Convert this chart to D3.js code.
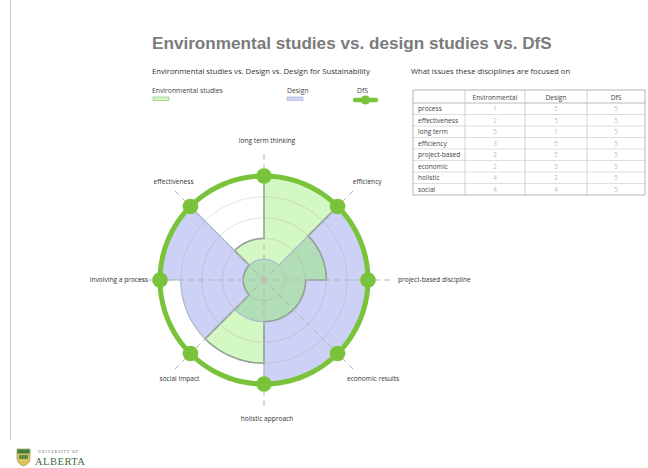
<!DOCTYPE html>
<html>
<head>
<meta charset="utf-8">
<script src="https://cdn.jsdelivr.net/npm/d3@7"></script>
<style>
  html, body { margin: 0; padding: 0; background: #fff; }
  svg { display: block; }
</style>
</head>
<body>
<svg id="chart" width="648" height="468"></svg>
<script>
// Axes of the rose chart, clockwise from the top
const axes = ["long term thinking", "efficiency", "project-based discipline", "economic results",
              "holistic approach", "social impact", "involving a process", "effectiveness"];
// Sector values (0-5), one sector per axis, running clockwise from that axis
const envValues    = [5, 3, 2, 2, 4, 1, 1, 2];
const designValues = [1, 5, 5, 5, 2, 4, 5, 1];
const dfsValues    = [5, 5, 5, 5, 5, 5, 5, 5];
const gridLevels   = [1, 2, 3, 4];

// Summary table
const tableHeaders = ["Environmental", "Design", "DfS"];
const tableRows    = ["process", "effectiveness", "long term", "efficiency", "project-based", "economic", "holistic", "social"];
const tableEnv     = [1, 2, 5, 3, 2, 2, 4, 4];
const tableDesign  = [5, 5, 1, 5, 5, 5, 2, 4];
const tableDfs     = [5, 5, 5, 5, 5, 5, 5, 5];

const legendItems  = ["Environmental studies", "Design", "DfS"];

const SANS = "'Open Sans', 'DejaVu Sans', sans-serif";
const SERIF = "'Liberation Serif', 'DejaVu Serif', serif";

const svg = d3.select("#chart").style("font-family", SANS);
const cx = 264, cy = 280;
const r = d3.scaleLinear().domain([0, 5]).range([0, 104]);
const angle = d3.scaleLinear().domain([0, axes.length]).range([0, 2 * Math.PI]);

// frame line on the left
svg.append("line").attr("x1", 10.5).attr("x2", 10.5).attr("y1", 0).attr("y2", 440)
  .attr("stroke", "#c8c8c8").attr("stroke-width", 1);

// Title
const title = svg.append("text").attr("x", 152).attr("y", 49)
  .style("font-family", "'Liberation Sans', Arial, Helvetica, sans-serif")
  .attr("font-weight", "bold").attr("font-size", 17).attr("fill", "#7b7b7b")
  .text("Environmental studies vs. design studies vs. DfS");
{
  const w = title.node().getComputedTextLength();
  title.attr("font-size", 17 * 400 / w);
}

svg.append("text").attr("x", 152).attr("y", 74).attr("font-size", 7.7).attr("fill", "#333")
  .text("Environmental studies vs. Design vs. Design for Sustainability");
svg.append("text").attr("x", 411).attr("y", 74).attr("font-size", 7.7).attr("fill", "#333")
  .text("What issues these disciplines are focused on");

// Legend
const legend = svg.append("g").attr("font-size", 6.8).attr("fill", "#444");
legend.append("text").attr("x", 152).attr("y", 93).text(legendItems[0]);
legend.append("rect").attr("x", 153).attr("y", 97).attr("width", 16).attr("height", 3.5)
  .attr("fill", "#d3f5c6").attr("stroke", "#9ccf8e").attr("stroke-width", 0.8);
legend.append("text").attr("x", 287).attr("y", 93).text(legendItems[1]);
legend.append("rect").attr("x", 287).attr("y", 97).attr("width", 16).attr("height", 3.5)
  .attr("fill", "#cfd3f5").attr("stroke", "#b3c3df").attr("stroke-width", 0.8);
legend.append("text").attr("x", 357).attr("y", 93).text(legendItems[2]);
legend.append("line").attr("x1", 355).attr("x2", 376).attr("y1", 100).attr("y2", 100)
  .attr("stroke", "#78c43a").attr("stroke-width", 4.5).attr("stroke-linecap", "round");
legend.append("circle").attr("cx", 365.5).attr("cy", 100).attr("r", 4.6).attr("fill", "#78c43a");

// Build the stepped outline of a series: an arc per sector joined by radial steps
function roseShape(values) {
  const pts = [];
  const steps = 24;
  values.forEach((v, i) => {
    for (let k = 0; k <= steps; k++) {
      pts.push([angle(i + k / steps), r(v)]);
    }
  });
  return d3.lineRadial().angle(d => d[0]).radius(d => d[1]).curve(d3.curveLinearClosed)(pts);
}

const g = svg.append("g").attr("transform", `translate(${cx},${cy})`);

// Design (blue)
g.append("path").attr("d", roseShape(designValues)).attr("fill", "#cdd1f6");
// Environmental studies (green)
g.append("path").attr("d", roseShape(envValues)).attr("fill", "#d3f8c4");
// Where both cover the same sector
const overlap = envValues.map((v, i) => Math.min(v, designValues[i]));
g.append("path").attr("d", roseShape(overlap)).attr("fill", "#b2deb7");

// grid rings
g.selectAll("circle.grid").data(gridLevels).join("circle").attr("class", "grid")
  .attr("r", d => r(d)).attr("fill", "none").attr("stroke", "#9a9a9a")
  .attr("stroke-opacity", 0.35).attr("stroke-width", 0.8);

// outlines
g.append("path").attr("d", roseShape(designValues)).attr("fill", "none")
  .attr("stroke", "#a9bdd0").attr("stroke-width", 1.2);
g.append("path").attr("d", roseShape(envValues)).attr("fill", "none")
  .attr("stroke", "#939f93").attr("stroke-width", 1.6);

// dashed axis lines
const axisLen = 126;
g.selectAll("line.axis").data(axes).join("line").attr("class", "axis")
  .attr("x1", 0).attr("y1", 0)
  .attr("x2", (d, i) => axisLen * Math.sin(angle(i)))
  .attr("y2", (d, i) => -axisLen * Math.cos(angle(i)))
  .attr("stroke", "#b5b5b5").attr("stroke-width", 1).attr("stroke-dasharray", "6,4");

// DfS ring and markers
const dfsArc = d3.lineRadial().angle(d => d[0]).radius(d => d[1]).curve(d3.curveCardinalClosed);
g.append("path")
  .attr("d", dfsArc(d3.range(0, 64).map(k => [angle(k / 8), r(dfsValues[Math.floor(k / 8)])])))
  .attr("fill", "none").attr("stroke", "#79c33a").attr("stroke-width", 5);
g.selectAll("circle.dfs").data(dfsValues).join("circle").attr("class", "dfs")
  .attr("cx", (d, i) => r(d) * Math.sin(angle(i)))
  .attr("cy", (d, i) => -r(d) * Math.cos(angle(i)))
  .attr("r", 7.8).attr("fill", "#79c33a");

// axis labels: placed round the ring, the side labels hugging their dashed line
const labelR = 139;
const labelX = a => {
  const s = Math.sin(a), c = Math.cos(a);
  if (Math.abs(s) > 0.99) return s > 0 ? 134 : -116;
  if (Math.abs(s) < 0.01) return 3;
  if (s > 0) return labelR * s * (c > 0 ? 1.05 : 1.11);
  return labelR * s * (c > 0 ? 0.92 : 0.86);
};
g.selectAll("text.lab").data(axes).join("text").attr("class", "lab")
  .attr("font-size", 6.6).attr("fill", "#333")
  .attr("x", (d, i) => labelX(angle(i)))
  .attr("y", (d, i) => -labelR * Math.cos(angle(i)) + 2.4)
  .attr("text-anchor", (d, i) => {
    const s = Math.sin(angle(i));
    if (Math.abs(s) > 0.99) return s > 0 ? "start" : "end";
    return "middle";
  })
  .text(d => d);

// Table
const tx = [413, 465, 525, 587, 645];
const rowH = 11.5, headTop = 90, headH = 13;
const tbl = svg.append("g");
const bodyTop = headTop + headH;
const bottom = bodyTop + rowH * tableRows.length;
tableRows.forEach((_, i) => {
  if (i === 0) return;
  tbl.append("line").attr("x1", tx[0]).attr("x2", tx[4])
    .attr("y1", bodyTop + i * rowH).attr("y2", bodyTop + i * rowH)
    .attr("stroke", "#d6d6d6").attr("stroke-width", 0.8);
});
tbl.append("line").attr("x1", tx[0]).attr("x2", tx[4]).attr("y1", bodyTop).attr("y2", bodyTop)
  .attr("stroke", "#a8a8a8").attr("stroke-width", 0.8);
[1, 2, 3].forEach(j => {
  tbl.append("line").attr("x1", tx[j]).attr("x2", tx[j]).attr("y1", headTop).attr("y2", bottom)
    .attr("stroke", "#c4c4c4").attr("stroke-width", 0.8);
});
tbl.append("rect").attr("x", tx[0]).attr("y", headTop).attr("width", tx[4] - tx[0])
  .attr("height", bottom - headTop).attr("fill", "none").attr("stroke", "#a0a0a0").attr("stroke-width", 0.8);
tableHeaders.forEach((h, j) => {
  tbl.append("text").attr("x", (tx[j + 1] + tx[j + 2]) / 2).attr("y", headTop + 9.5)
    .attr("text-anchor", "middle").attr("font-size", 6.6).attr("fill", "#444").text(h);
});
const cols = [tableEnv, tableDesign, tableDfs];
tableRows.forEach((name, i) => {
  const y = bodyTop + i * rowH + 8.3;
  tbl.append("text").attr("x", 418).attr("y", y).attr("font-size", 6.6).attr("fill", "#444").text(name);
  cols.forEach((col, j) => {
    tbl.append("text").attr("x", (tx[j + 1] + tx[j + 2]) / 2).attr("y", y)
      .attr("text-anchor", "middle").attr("font-size", 6.3).attr("fill", "#bcbcbc").text(col[i]);
  });
});

// University of Alberta mark
const logo = svg.append("g");
logo.append("path").attr("d", "M17,449 L30,449 L30,458 Q30,464 23.5,466 Q17,464 17,458 Z")
  .attr("fill", "#e2c35a").attr("stroke", "#6f8f52").attr("stroke-width", 0.6);
logo.append("rect").attr("x", 17.5).attr("y", 449.5).attr("width", 12).attr("height", 4).attr("fill", "#3f7d3c");
logo.append("rect").attr("x", 19).attr("y", 455).attr("width", 9).attr("height", 4).attr("fill", "#5a8f4a");
logo.append("text").attr("x", 38).attr("y", 452.5)
  .style("font-family", SERIF).attr("font-size", 3.6)
  .attr("letter-spacing", 1.1).attr("fill", "#3d6e3a").text("UNIVERSITY OF");
logo.append("text").attr("x", 35).attr("y", 464.5)
  .style("font-family", SERIF).attr("font-size", 10.5)
  .attr("letter-spacing", 0.5).attr("fill", "#3d6e3a").text("ALBERTA");
</script>
</body>
</html>
